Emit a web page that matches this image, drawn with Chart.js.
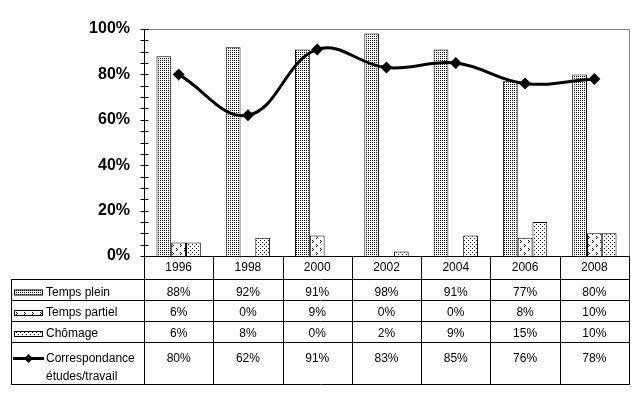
<!DOCTYPE html>
<html lang="fr">
<head>
    <meta charset="UTF-8">
    <title>Situation des diplômés 1996-2008</title>
    <script src="https://cdn.jsdelivr.net/npm/chart.js@4.4.0/dist/chart.umd.min.js"></script>
    <style>
        * {
            margin: 0;
            padding: 0;
            box-sizing: border-box;
        }

        body {
            background-color: #ffffff;
            width: 639px;
            height: 399px;
            overflow: hidden;
        }

        .chart-wrapper {
            position: relative;
            width: 639px;
            height: 399px;
        }
    </style>
</head>
<body>
    <div class="chart-wrapper">
        <canvas id="chart"></canvas>
    </div>

    <script>
        // données
        const years = ['1996', '1998', '2000', '2002', '2004', '2006', '2008'];
        const tempsPlein = [88, 92, 91, 98, 91, 77, 80];
        const tempsPartiel = [6, 0, 9, 0, 0, 8, 10];
        const chomage = [6, 8, 0, 2, 9, 15, 10];
        const correspondance = [80, 62, 91, 83, 85, 76, 78];
        const yTicks = [0, 20, 40, 60, 80, 100];
        const rowLabels = [['Temps plein'], ['Temps partiel'], ['Chômage'], ['Correspondance', 'études/travail']];

        const FONT = 'Arial, "Liberation Sans", sans-serif';

        // motifs de remplissage (trames)
        function makePattern(size, pixels) {
            const c = document.createElement('canvas');
            c.width = size;
            c.height = size;
            const g = c.getContext('2d');
            g.fillStyle = '#ffffff';
            g.fillRect(0, 0, size, size);
            g.fillStyle = '#000000';
            pixels.forEach(p => g.fillRect(p[0], p[1], 1, 1));
            return g.createPattern(c, 'repeat');
        }

        const pleinPattern = makePattern(2, [[0, 0]]);
        const partielPattern = makePattern(8, [[0, 0], [1, 1], [0, 2], [4, 4], [5, 5], [4, 6]]);
        const chomagePattern = makePattern(4, [[0, 0], [2, 2]]);
        const patterns = [pleinPattern, partielPattern, chomagePattern];

        // cadre du graphique et graduations
        const framePlugin = {
            id: 'frame',
            beforeDatasetsDraw(chart) {
                const { ctx, chartArea: a, scales: { y } } = chart;
                const L = Math.round(a.left) + 0.5;
                const R = Math.round(a.right) + 0.5;
                const T = Math.round(a.top) + 0.5;
                const B = Math.round(a.bottom) + 0.5;
                ctx.save();
                ctx.lineWidth = 1;
                ctx.strokeStyle = '#808080';
                ctx.beginPath();
                ctx.moveTo(L, T);
                ctx.lineTo(R, T);
                ctx.lineTo(R, B);
                ctx.stroke();
                ctx.strokeStyle = '#000000';
                ctx.beginPath();
                ctx.moveTo(L, T);
                ctx.lineTo(L, B);
                for (let v = 0; v <= 100; v += 5) {
                    const py = Math.round(y.getPixelForValue(v)) + 0.5;
                    ctx.moveTo(L - 4, py);
                    ctx.lineTo(L + 4, py);
                }
                ctx.stroke();
                ctx.restore();
            }
        };

        // tableau de données sous le graphique
        const tablePlugin = {
            id: 'dataTable',
            afterDraw(chart) {
                const { ctx, chartArea: a, scales: { x } } = chart;
                const top = Math.round(a.bottom);
                const left = 11;
                const L = Math.round(a.left);
                const R = Math.round(a.right);
                const colW = a.width / years.length;
                const lines = [0, 23, 44, 65, 86, 128].map(v => top + v);
                const bottom = lines[lines.length - 1];

                ctx.save();
                ctx.strokeStyle = '#000000';
                ctx.lineWidth = 1;
                ctx.beginPath();
                lines.forEach((ly, i) => {
                    ctx.moveTo(i === 0 ? L : left, ly + 0.5);
                    ctx.lineTo(R + 1, ly + 0.5);
                });
                ctx.moveTo(left + 0.5, lines[1]);
                ctx.lineTo(left + 0.5, bottom + 1);
                for (let i = 0; i <= years.length; i++) {
                    const vx = Math.round(a.left + i * colW) + 0.5;
                    ctx.moveTo(vx, top);
                    ctx.lineTo(vx, bottom + 1);
                }
                ctx.stroke();

                ctx.fillStyle = '#000000';
                ctx.font = '12px ' + FONT;
                ctx.textAlign = 'center';
                ctx.textBaseline = 'middle';
                years.forEach((yr, i) => {
                    ctx.fillText(yr, x.getPixelForValue(i), top + 12);
                });

                const series = [tempsPlein, tempsPartiel, chomage, correspondance];
                const rowMid = [36.5, 57, 78, 102.5];
                series.forEach((vals, r) => {
                    vals.forEach((v, i) => {
                        ctx.fillText(v + '%', x.getPixelForValue(i), top + rowMid[r]);
                    });
                });

                // étiquettes et clés de légende
                ctx.textAlign = 'left';
                rowLabels.forEach((lab, r) => {
                    const cy = top + rowMid[r];
                    lab.forEach((t, k) => ctx.fillText(t, 46, cy + k * 18));
                    if (r < 3) {
                        ctx.fillStyle = patterns[r];
                        ctx.fillRect(14, cy - 3, 29, 6);
                        ctx.strokeRect(14.5, cy - 2.5, 28, 5);
                        ctx.fillStyle = '#000000';
                    } else {
                        ctx.lineWidth = 3;
                        ctx.beginPath();
                        ctx.moveTo(13, cy);
                        ctx.lineTo(44, cy);
                        ctx.stroke();
                        ctx.beginPath();
                        ctx.moveTo(28.5, cy - 4.5);
                        ctx.lineTo(33, cy);
                        ctx.lineTo(28.5, cy + 4.5);
                        ctx.lineTo(24, cy);
                        ctx.closePath();
                        ctx.fill();
                    }
                });
                ctx.restore();
            }
        };

        const barStyle = {
            type: 'bar',
            borderColor: '#000000',
            borderWidth: 1,
            borderSkipped: 'start',
            categoryPercentage: 0.64,
            barPercentage: 1.0,
            order: 1
        };

        const config = {
            type: 'bar',
            data: {
                labels: years,
                datasets: [
                    { ...barStyle, label: 'Temps plein', data: tempsPlein, backgroundColor: pleinPattern },
                    { ...barStyle, label: 'Temps partiel', data: tempsPartiel, backgroundColor: partielPattern },
                    { ...barStyle, label: 'Chômage', data: chomage, backgroundColor: chomagePattern },
                    {
                        type: 'line',
                        label: 'Correspondance études/travail',
                        data: correspondance,
                        borderColor: '#000000',
                        backgroundColor: '#000000',
                        borderWidth: 3,
                        tension: 0.4,
                        pointStyle: 'rectRot',
                        pointRadius: 6,
                        pointBackgroundColor: '#000000',
                        pointBorderWidth: 0,
                        order: 0
                    }
                ]
            },
            options: {
                responsive: true,
                maintainAspectRatio: false,
                animation: false,
                devicePixelRatio: 1,
                layout: {
                    padding: { left: 0, top: 29, right: 10, bottom: 143 }
                },
                plugins: {
                    legend: { display: false },
                    tooltip: { enabled: false }
                },
                scales: {
                    x: {
                        display: false
                    },
                    y: {
                        min: 0,
                        max: 100,
                        afterBuildTicks: (scale) => {
                            scale.ticks = yTicks.map(v => ({ value: v }));
                        },
                        afterFit: (scale) => {
                            scale.width = 144;
                            scale.paddingTop = 0;
                            scale.paddingBottom = 0;
                        },
                        grid: { display: false, drawTicks: false },
                        border: { display: false },
                        ticks: {
                            padding: 14,
                            color: '#000000',
                            font: { family: FONT, size: 16, weight: 'bold' },
                            callback: (v) => v + '%'
                        }
                    }
                }
            },
            plugins: [framePlugin, tablePlugin]
        };

        const chart = new Chart(document.getElementById('chart'), config);
    </script>
</body>
</html>
